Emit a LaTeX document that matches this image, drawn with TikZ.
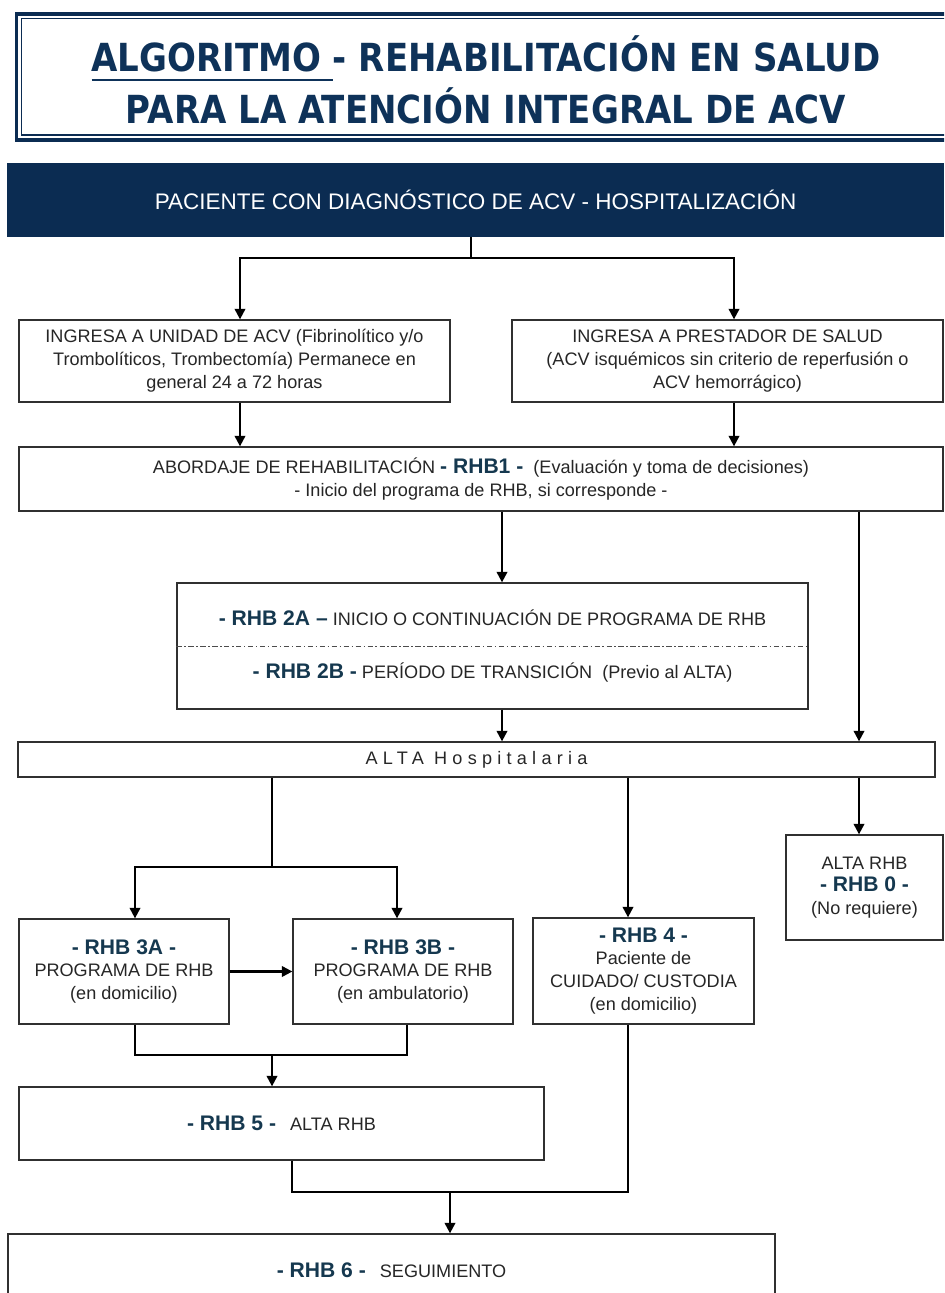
\documentclass[tikz,border=0pt]{standalone}
\usepackage{fontspec}
\setmainfont{Liberation Sans}
\newfontfamily\titlefont{DejaVu Sans}[FakeStretch=0.88]
\newfontfamily\spacedfont{Liberation Sans}[LetterSpace=29]
\usetikzlibrary{arrows.meta}
\definecolor{navy}{HTML}{0B2C52}
\definecolor{titlec}{HTML}{0E3259}
\definecolor{rhbc}{HTML}{15384F}
\definecolor{txt}{HTML}{262626}
\definecolor{boxc}{HTML}{303030}
\newcommand\bodyf{\fontsize{10.3}{13}\selectfont}
\newcommand\RHBlab[1]{{\fontsize{12}{13}\selectfont\bfseries\color{rhbc}#1}}
\newcommand\myul[1]{\setbox0\hbox{#1}\rlap{\rule[-5pt]{\wd0}{1.1pt}}\box0}
\begin{document}
\begin{tikzpicture}[x=0.02cm,y=-0.02cm,
  bx/.style={draw=boxc,line width=0.75pt,inner sep=0pt,align=center,font=\bodyf,text=txt},
  ln/.style={line width=1.25pt,draw=black,line join=miter},
  arr/.style={ln,-{Triangle[width=6pt,length=6pt]}},
  ttl/.style={anchor=base,inner sep=0pt,text=titlec,font=\titlefont\fontsize{22}{24}\selectfont\bfseries}
]
\useasboundingbox (0,0) rectangle (944,1293);
\clip (0,0) rectangle (944,1293);
\fill[white] (0,0) rectangle (944,1293);

% title frame
\draw[navy,line width=2pt] (960,14) -- (16.5,14) -- (16.5,140) -- (960,140);
\draw[navy,line width=0.8pt] (960,18.5) -- (21.5,18.5) -- (21.5,135) -- (960,135);
\node[ttl] (t1) at (486,72) {\myul{ALGORITMO }- REHABILITACIÓN EN SALUD};
\node[ttl] (t2) at (486,124) {PARA LA ATENCIÓN INTEGRAL DE ACV};

% banner
\node[fill=navy,minimum width=18.74cm,minimum height=1.48cm,inner sep=0pt,text=white,
      font=\fontsize{12.8}{14}\selectfont] (ban) at (475.5,200)
      {PACIENTE CON DIAGNÓSTICO DE ACV - HOSPITALIZACIÓN};

% boxes
\node[bx,minimum width=8.62cm,minimum height=1.64cm] (A) at (234.5,361)
  {INGRESA A UNIDAD DE ACV (Fibrinolítico y/o\\Trombolíticos, Trombectomía) Permanece en\\general 24 a 72 horas};
\node[bx,minimum width=8.62cm,minimum height=1.64cm] (B) at (727.5,361)
  {INGRESA A PRESTADOR DE SALUD\\(ACV isquémicos sin criterio de reperfusión o\\ACV hemorrágico)};
\node[bx,minimum width=18.48cm,minimum height=1.28cm] (R1) at (481,479)
  {ABORDAJE DE REHABILITACIÓN \RHBlab{- RHB1 -}\ \ (Evaluación y toma de decisiones)\\- Inicio del programa de RHB, si corresponde -};
\node[bx,minimum width=12.62cm,minimum height=2.52cm] (R2) at (492.5,646)
  {\RHBlab{- RHB 2A –} INICIO O CONTINUACIÓN DE PROGRAMA DE RHB\\[17pt]\RHBlab{- RHB 2B -} PERÍODO DE TRANSICIÓN\ \ (Previo al ALTA)};
\node[bx,minimum width=18.34cm,minimum height=0.70cm] (ALTA) at (476.5,759.5)
  {\spacedfont ALTA Hospitalaria};
\node[bx,minimum width=3.14cm,minimum height=2.10cm] (R0) at (864.5,887.5)
  {ALTA RHB\\\RHBlab{- RHB 0 -}\\(No requiere)};
\node[bx,minimum width=4.2cm,minimum height=2.1cm] (R3A) at (124,971.5)
  {\RHBlab{- RHB 3A -}\\PROGRAMA DE RHB\\(en domicilio)};
\node[bx,minimum width=4.4cm,minimum height=2.1cm] (R3B) at (403,971.5)
  {\RHBlab{- RHB 3B -}\\PROGRAMA DE RHB\\(en ambulatorio)};
\node[bx,minimum width=4.42cm,minimum height=2.12cm] (R4) at (643.5,971)
  {\RHBlab{- RHB 4 -}\\Paciente de\\CUIDADO/ CUSTODIA\\(en domicilio)};
\node[bx,minimum width=10.5cm,minimum height=1.46cm] (R5) at (281.5,1123.5)
  {\RHBlab{- RHB 5 -}\hspace{8pt}ALTA RHB};
\node[bx,minimum width=15.34cm,minimum height=1.44cm] (R6) at (391.5,1270)
  {\RHBlab{- RHB 6 -}\hspace{8pt}SEGUIMIENTO};

\draw[gray!60!black,line width=0.5pt,dash pattern=on 3pt off 1.5pt on 0.8pt off 1.5pt] (R2.west) -- (R2.east);

% columns and junctions
\coordinate (c240) at (240,0);
\coordinate (c734) at (734,0);
\coordinate (c502) at (502,0);
\coordinate (c859) at (859,0);
\coordinate (c135) at (135,0);
\coordinate (c397) at (397,0);
\coordinate (c407) at (407,0);
\coordinate (c628) at (628,0);
\coordinate (c292) at (292,0);
\coordinate (jTop) at (471,258);
\coordinate (jL) at (272,867);
\coordinate (jM) at (272,1055);
\coordinate (jB) at (450,1192);

% connectors
\draw[ln] (ban.south -| jTop) -- (jTop);
\draw[arr] (jTop) -| (A.north -| c240);
\draw[arr] (jTop) -| (B.north -| c734);
\draw[arr] (A.south -| c240) -- (R1.north -| c240);
\draw[arr] (B.south -| c734) -- (R1.north -| c734);
\draw[arr] (R1.south -| c502) -- (R2.north -| c502);
\draw[arr] (R2.south -| c502) -- (ALTA.north -| c502);
\draw[arr] (R1.south -| c859) -- (ALTA.north -| c859);
\draw[arr] (ALTA.south -| c859) -- (R0.north -| c859);
\draw[ln] (ALTA.south -| jL) -- (jL);
\draw[arr] (jL) -| (R3A.north -| c135);
\draw[arr] (jL) -| (R3B.north -| c397);
\draw[arr] (ALTA.south -| c628) -- (R4.north -| c628);
\draw[arr] (R3A.east) -- (R3B.west);
\draw[ln] (R3A.south -| c135) |- (jM);
\draw[ln] (R3B.south -| c407) |- (jM);
\draw[arr] (jM) -- (R5.north -| jM);
\draw[ln] (R5.south -| c292) |- (jB);
\draw[ln] (R4.south -| c628) |- (jB);
\draw[arr] (jB) -- (R6.north -| jB);
\end{tikzpicture}
\end{document}
